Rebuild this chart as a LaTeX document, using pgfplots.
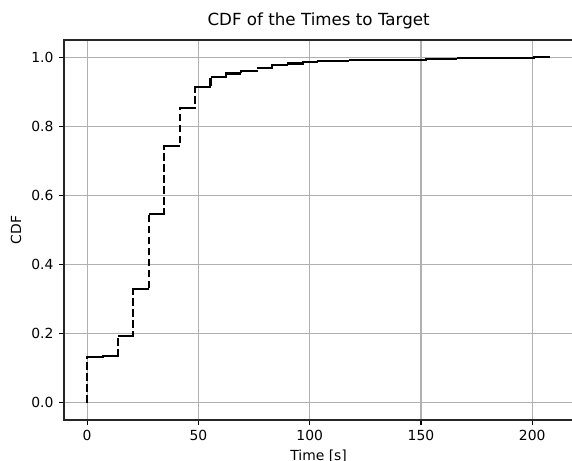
\documentclass[border=0pt]{standalone}
\usepackage{fontspec}
\setmainfont{DejaVu Sans}
\usepackage{pgfplots}
\pgfplotsset{compat=1.18}
\usepackage{pgfplotstable}
\definecolor{gridgray}{HTML}{B0B0B0}

\pgfplotstableread{
x y
0 0
0 0.133
6.93 0.135
13.86 0.193
20.79 0.328
27.72 0.547
34.65 0.744
41.58 0.854
48.51 0.913
55.44 0.943
62.37 0.953
69.30 0.961
76.23 0.968
83.16 0.977
90.09 0.982
97.02 0.985
103.95 0.988
117.81 0.991
124.74 0.993
152.46 0.996
166.32 0.998
200.97 1.0
208.00 1.0
}\cdfdata

\begin{document}
\begin{tikzpicture}
\begin{axis}[
  scale only axis,
  width=509.2bp, height=380bp,
  at={(64bp,41bp)}, anchor=south west,
  xmin=-10.4, xmax=218.4, ymin=-0.05, ymax=1.05,
  xtick={0,50,100,150,200},
  ytick={0,0.2,0.4,0.6,0.8,1},
  tick pos=left,
  tick align=outside,
  major tick length=4.9bp,
  tick style={black, line width=1.1bp},
  axis line style={black!85, line width=1.1bp},
  grid=major,
  major grid style={gridgray, line width=1.1bp},
  /pgf/number format/assume math mode=true,
  ticklabel style={font=\fontsize{13.9bp}{16bp}\selectfont, inner sep=0pt},
  xticklabel shift=4.9bp,
  yticklabel shift=5.5bp,
  yticklabel style={/pgf/number format/.cd, fixed, fixed zerofill, precision=1},
  xticklabel style={/pgf/number format/.cd, fixed, precision=0},
  title={CDF of the Times to Target},
  title style={font=\fontsize{16.7bp}{20bp}\selectfont, at={(axis description cs:0.5,1)}, anchor=base, yshift=8.3bp, inner sep=0pt},
  xlabel={Time [s]},
  xlabel style={font=\fontsize{13.9bp}{16bp}\selectfont, at={(axis description cs:0.5,0)}, anchor=north, yshift=-29.5bp, inner sep=0pt},
  ylabel={CDF},
  ylabel style={font=\fontsize{13.9bp}{16bp}\selectfont, at={(axis description cs:-0.0943,0.5)}, anchor=center, inner sep=0pt},
]
\addplot[black, line width=2.08bp, dash pattern=on 7.7bp off 3.3bp, const plot mark left] table[x=x, y=y] {\cdfdata};
\addplot[black, line width=2.08bp, solid, jump mark left] table[x=x, y=y] {\cdfdata};
\end{axis}
\pgfresetboundingbox
\path[use as bounding box] (0,0) rectangle (572bp,461bp);
\end{tikzpicture}
\end{document}
